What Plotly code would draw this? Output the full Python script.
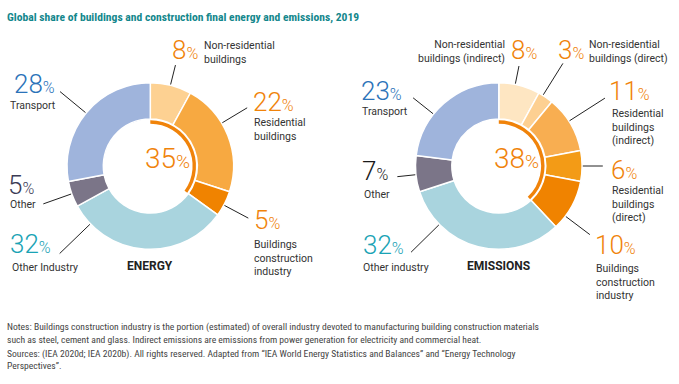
import math
import plotly.graph_objects as go

W, H = 679, 384

# ---------------- data ----------------
energy_labels = ["Non-residential<br>buildings", "Residential<br>buildings",
                 "Buildings<br>construction<br>industry", "Other Industry", "Other", "Transport"]
energy_values = [8, 22, 5, 32, 5, 28]
energy_buildings_n = 3

emis_labels = ["Non-residential<br>buildings (indirect)", "Non-residential<br>buildings (direct)",
               "Residential<br>buildings<br>(indirect)", "Residential<br>buildings<br>(direct)",
               "Buildings<br>construction<br>industry", "Other industry", "Other", "Transport"]
emis_values = [8, 3, 11, 6, 10, 32, 7, 23]
emis_buildings_n = 5

title_text = "Global share of buildings and construction final energy and emissions, 2019"
notes_lines = [
    "Notes: Buildings construction industry is the portion (estimated) of overall industry devoted to manufacturing building construction materials",
    "such as steel, cement and glass. Indirect emissions are emissions from power generation for electricity and commercial heat.",
    "Sources: (IEA 2020d; IEA 2020b). All rights reserved. Adapted from \u201cIEA World Energy Statistics and Balances\u201d and \u201cEnergy Technology",
    "Perspectives\u201d.",
]

# ---------------- styles / layout ----------------
ORANGE = "#F0830A"
TEAL = "#1AA3B5"
BLUE = "#2B73B9"
SLATE = "#3B3B55"
BLACK = "#1A1A1A"
TXT = "#333333"

energy_colors = ["#FDD192", "#F7A941", "#F08300", "#A9D4DE", "#7B7588", "#9FB4DC"]
emis_colors = ["#FEE6C2", "#FDD092", "#F8AE51", "#F39B16", "#F08300", "#A9D4DE", "#7B7588", "#9FB4DC"]
energy_num_colors = [ORANGE, ORANGE, ORANGE, TEAL, SLATE, BLUE]
emis_num_colors = [ORANGE, ORANGE, ORANGE, ORANGE, ORANGE, TEAL, BLACK, BLUE]

R_OUT = 83.3
R_HOLE = 47.0
ARC_OUT = 45.7
ARC_IN = 42.3
energy_center = (150.3, 166.0)
emis_center = (498.8, 166.0)

# (num_x, num_baseline, text_x, text_baseline, text_anchor)
energy_label_pos = [
    (172, 58.3, 204.3, 47.5, "left"),
    (253.3, 110, 254, 124.8, "left"),
    (254, 228.3, 254, 246.5, "left"),
    (10.7, 252.3, 11.7, 270, "left"),
    (8.3, 193, 10, 206.5, "left"),
    (14, 91.7, 10, 107.3, "left"),
]
emis_label_pos = [
    (511.7, 58.3, 505, 47, "right"),
    (558.3, 58.3, 589.3, 47, "left"),
    (609.3, 99.3, 611.7, 116, "left"),
    (611.7, 177.7, 611.7, 193, "left"),
    (595, 253.3, 596, 271, "left"),
    (363.3, 253.3, 362.7, 269.5, "left"),
    (362.7, 179.3, 364, 196.5, "left"),
    (361.7, 99.3, 361.7, 113.5, "left"),
]
# leader lines: (angle clockwise from top in degrees, end radius)
energy_leaders = [(14, 104), (59, 113), (118, 111), (226, 126), (250.5, 113.5), (309.5, 117)]
emis_leaders = [(11.4, 102), (32, 121), (57.4, 126), (90, 104), (127, 114), (225.5, 123), (264, 102), (308.5, 109.5)]
LEADER_START = 84
notes_baselines = [328.5, 342, 355.5, 368]


def px(x):
    return x / W


def py(y):
    return 1 - y / H


def domain(center, r):
    cx, cy = center
    return dict(x=[px(cx - r), px(cx + r)], y=[py(cy + r), py(cy - r)])


fig = go.Figure()
annotations = []
shapes = []

NUM_F, PCT_F = 26, 16
LBL_F = 10.5


def add_chart(values, labels, colors, num_colors, pos, leaders, center, n_build, name):
    fig.add_trace(go.Pie(
        values=values, labels=[l.replace("<br>", " ") for l in labels], sort=False,
        direction="clockwise", rotation=0, hole=R_HOLE / R_OUT,
        marker=dict(colors=colors, line=dict(color="white", width=1.5)),
        textinfo="none", hoverinfo="skip", domain=domain(center, R_OUT), showlegend=False))
    total_build = sum(values[:n_build])
    rest = sum(values[n_build:])
    fig.add_trace(go.Pie(
        values=[total_build, rest], labels=["b", "r"], sort=False,
        direction="clockwise", rotation=0, hole=ARC_IN / ARC_OUT,
        marker=dict(colors=[ORANGE, "rgba(0,0,0,0)"], line=dict(width=0)),
        textinfo="none", hoverinfo="skip", domain=domain(center, ARC_OUT), showlegend=False))
    cx, cy = center
    # center label
    f, fp = 28, 19
    annotations.append(dict(
        x=px(cx + 17.5), y=py(167.3 - 0.93 * f - 1), xanchor="center", yanchor="top",
        text=f"{total_build}<span style='font-size:{fp}px'>%</span>", showarrow=False,
        font=dict(family="Roboto", size=f, color=ORANGE, weight=300)))
    annotations.append(dict(
        x=px(cx), y=py(269.3 - 0.93 * 12 - 1), xanchor="center", yanchor="top",
        text=f"<b>{name}</b>", showarrow=False,
        font=dict(family="Roboto", size=12, color="#222222")))
    for v, lab, c, p, ld in zip(values, labels, num_colors, pos, leaders):
        nx, nb, tx, tb, anc = p
        annotations.append(dict(
            x=px(nx - 2.3), y=py(nb - 0.93 * NUM_F - 1), xanchor="left", yanchor="top",
            text=f"{v}<span style='font-size:{PCT_F}px'>%</span>", showarrow=False,
            font=dict(family="Roboto", size=NUM_F, color=c, weight=300)))
        annotations.append(dict(
            x=px(tx - 2 if anc == "left" else tx + 2), y=py(tb - 0.93 * LBL_F - 1),
            xanchor=anc, yanchor="top", align=anc, text=lab, showarrow=False,
            font=dict(family="Roboto", size=LBL_F, color=TXT)))
        a, r2 = ld
        ar = math.radians(a)
        shapes.append(dict(
            type="line", xref="paper", yref="paper",
            x0=px(cx + LEADER_START * math.sin(ar)), y0=py(cy - LEADER_START * math.cos(ar)),
            x1=px(cx + r2 * math.sin(ar)), y1=py(cy - r2 * math.cos(ar)),
            line=dict(color="#222222", width=1)))


add_chart(energy_values, energy_labels, energy_colors, energy_num_colors, energy_label_pos,
          energy_leaders, energy_center, energy_buildings_n, "ENERGY")
add_chart(emis_values, emis_labels, emis_colors, emis_num_colors, emis_label_pos,
          emis_leaders, emis_center, emis_buildings_n, "EMISSIONS")

COND = "Roboto Condensed, Liberation Sans Narrow, Roboto"
TF = 11.6
annotations.append(dict(
    x=px(5), y=py(20 - 0.93 * TF - 1), xanchor="left", yanchor="top", showarrow=False,
    text=f"<b>{title_text}</b>", font=dict(family=COND, size=TF, color="#13878C")))
NF = 9.6
for line, bl in zip(notes_lines, notes_baselines):
    annotations.append(dict(
        x=px(5), y=py(bl - 0.93 * NF - 1), xanchor="left", yanchor="top", showarrow=False, align="left",
        text=line, font=dict(family=COND, size=NF, color="#444444")))

fig.update_layout(
    width=W, height=H, autosize=False,
    margin=dict(l=0, r=0, t=0, b=0),
    paper_bgcolor="white", plot_bgcolor="white",
    annotations=annotations, shapes=shapes,
)

fig.write_html("out.html", config={"displayModeBar": False},
               post_script="document.body.style.margin='0';")
